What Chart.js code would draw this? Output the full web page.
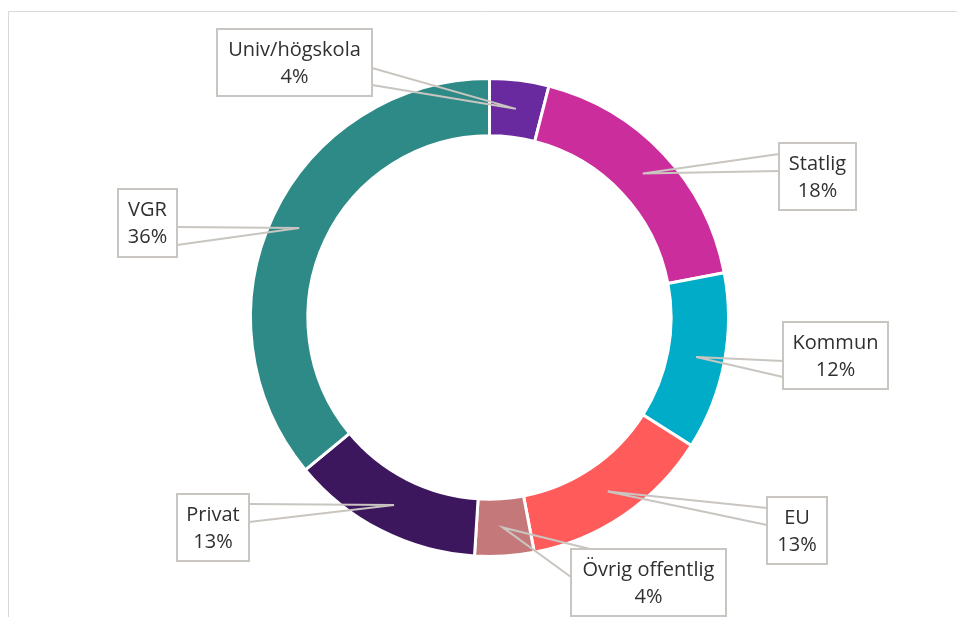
<!DOCTYPE html>
<html>
<head>
<meta charset="utf-8">
<script src="https://cdn.jsdelivr.net/npm/chart.js@4"></script>
<style>
  html, body { margin: 0; padding: 0; background: #fff; }
  canvas { display: block; }
</style>
</head>
<body>
<canvas id="chart" width="957" height="617"></canvas>
<script>
// Data
const categories = ['Univ/högskola', 'Statlig', 'Kommun', 'EU', 'Övrig offentlig', 'Privat', 'VGR'];
const shares = [4, 18, 12, 13, 4, 13, 36];
const colors = ['#6a2a9f', '#cc2d9c', '#00acc7', '#ff5b5b', '#c57879', '#3d175d', '#2e8a87'];

// Callout box placement: box x, y, w, h and the two base points of the pointer (relative to the box)
const callouts = [
    { x: 217, y: 29, w: 155, h: 67, base: [[155, 39], [155, 56]] },
    { x: 779, y: 143, w: 77, h: 67, base: [[0, 11], [0, 28]] },
    { x: 783, y: 322, w: 105, h: 67, base: [[0, 39], [0, 55]] },
    { x: 767, y: 497, w: 60, h: 67, base: [[0, 11], [0, 28]] },
    { x: 571, y: 549, w: 155, h: 67, base: [[0, 28], [19, 0]] },
    { x: 177, y: 494, w: 72, h: 67, base: [[72, 10], [72, 28]] },
    { x: 118, y: 189, w: 59, h: 68, base: [[59, 38], [59, 56]] }
];

// Light frame around the plot (top and left edges visible in the reference)
const framePlugin = {
    id: 'frame',
    beforeDraw(chart) {
        const ctx = chart.ctx;
        ctx.save();
        ctx.strokeStyle = '#d9d9d9';
        ctx.lineWidth = 1;
        ctx.beginPath();
        ctx.moveTo(8.5, 617);
        ctx.lineTo(8.5, 11.5);
        ctx.lineTo(957, 11.5);
        ctx.stroke();
        ctx.restore();
    }
};

// Callout labels with pointer lines
const calloutPlugin = {
    id: 'callouts',
    afterDraw(chart) {
        const ctx = chart.ctx;
        const meta = chart.getDatasetMeta(0);
        const total = shares.reduce((a, b) => a + b, 0);
        ctx.save();
        meta.data.forEach((arc, i) => {
            const c = callouts[i];
            const p = arc.tooltipPosition();
            const b1 = [c.x + c.base[0][0], c.y + c.base[0][1]];
            const b2 = [c.x + c.base[1][0], c.y + c.base[1][1]];

            ctx.strokeStyle = '#c9c5c0';
            ctx.lineWidth = 2;
            ctx.beginPath();
            ctx.moveTo(b1[0], b1[1]);
            ctx.lineTo(p.x, p.y);
            ctx.lineTo(b2[0], b2[1]);
            ctx.stroke();

            ctx.fillStyle = '#ffffff';
            ctx.fillRect(c.x, c.y, c.w, c.h);
            ctx.strokeRect(c.x, c.y, c.w, c.h);

            ctx.fillStyle = '#303030';
            ctx.font = '20px "Open Sans", sans-serif';
            ctx.textAlign = 'center';
            ctx.textBaseline = 'alphabetic';
            const pct = Math.round(shares[i] / total * 100) + '%';
            ctx.fillText(categories[i], c.x + c.w / 2, c.y + 27);
            ctx.fillText(pct, c.x + c.w / 2, c.y + 54);
        });
        ctx.restore();
    }
};

const ctx = document.getElementById('chart').getContext('2d');
const chart = new Chart(ctx, {
    type: 'doughnut',
    data: {
        labels: categories,
        datasets: [{
            data: shares,
            backgroundColor: colors,
            borderColor: '#ffffff',
            borderWidth: 3
        }]
    },
    options: {
        responsive: false,
        animation: false,
        devicePixelRatio: 1,
        radius: 239,
        cutout: '76%',
        layout: {
            padding: { left: 30, right: 8, top: 30, bottom: 12 }
        },
        plugins: {
            legend: { display: false },
            tooltip: { enabled: false }
        }
    },
    plugins: [framePlugin, calloutPlugin]
});
</script>
</body>
</html>
